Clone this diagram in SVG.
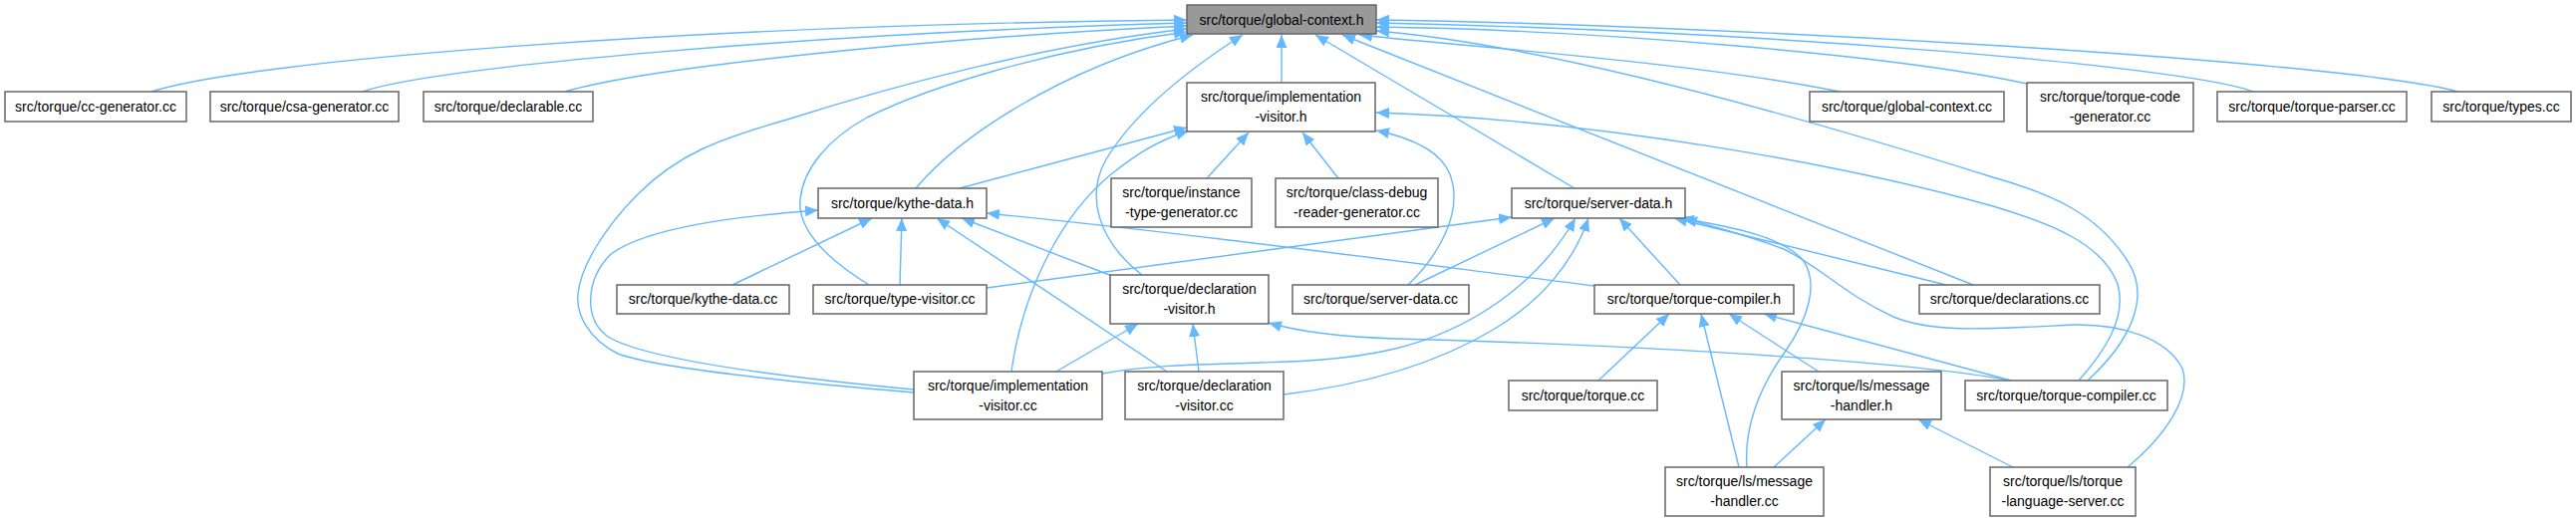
<svg xmlns="http://www.w3.org/2000/svg" width="2585" height="524" viewBox="0 0 2585 524">
<defs>
<marker id="a" viewBox="0 0 13 11" refX="13" refY="5.5" markerWidth="13" markerHeight="11" markerUnits="userSpaceOnUse" orient="auto">
<path d="M0,0 L13,5.5 L0,11 z" fill="#63b8ff"/>
</marker>
<style>
.n rect{fill:#fff;stroke:#666;stroke-width:1.5}
.g rect{fill:#999}
.n text{font-family:"Liberation Sans",Arial,sans-serif;font-size:14px;text-anchor:middle;fill:#000}
.e path{fill:none;stroke:#63b8ff;stroke-width:1.4;marker-end:url(#a)}
</style>
</defs>
<rect width="2585" height="524" fill="#fff"/>
<g id="edges" class="e">
<path d="M152,92 C250,60 700,25 1191,20"/>
<path d="M364,92 C430,68 800,34 1191,23"/>
<path d="M567,92 C640,70 900,40 1191,26"/>
<path d="M917,394 C800,384 660,370 620,355 C590,340 578,315 580,295 C583,265 610,225 640,195 C680,155 720,140 790,120 C900,85 1050,45 1191,29"/>
<path d="M872,286 C830,260 800,230 803,200 C806,170 830,140 870,118 C930,88 1050,50 1191,32"/>
<path d="M919,189 C960,140 1060,70 1197,35"/>
<path d="M1146,276 C1100,240 1090,195 1110,160 C1140,110 1200,65 1247,35"/>
<path d="M1286,83 L1286,35"/>
<path d="M1580,189 L1320,35"/>
<path d="M1980,286 L1347,35"/>
<path d="M1846,92 C1700,62 1450,45 1364,35"/>
<path d="M2034,84 C1900,55 1600,30 1381,27"/>
<path d="M2261,92 C2200,68 1800,32 1381,23"/>
<path d="M2466,92 C2350,60 1700,24 1381,20"/>
<path d="M2095,382 C2135,345 2160,300 2135,262 C2105,215 2060,195 2000,178 C1800,115 1550,45 1381,31"/>
<path d="M963,189 L1191,128"/>
<path d="M1015,373 C1025,300 1060,220 1115,175 C1140,155 1160,142 1193,131"/>
<path d="M1211,179 L1253,133"/>
<path d="M1343,179 L1307,133"/>
<path d="M1413,286 C1440,260 1470,215 1455,175 C1445,150 1415,138 1381,131"/>
<path d="M2086,382 C2110,355 2135,320 2125,285 C2110,245 2060,225 2000,207 C1850,165 1600,120 1381,113"/>
<path d="M917,391 C800,380 650,362 610,338 C585,320 588,280 613,255 C650,228 740,217 821,211"/>
<path d="M735,286 L875,219"/>
<path d="M903,286 L905,219"/>
<path d="M1171,373 L940,219"/>
<path d="M1116,277 L965,219"/>
<path d="M1600,287 C1400,262 1200,235 990,214"/>
<path d="M990,289 L1517,218"/>
<path d="M1420,286 L1560,219"/>
<path d="M1106,375 C1200,358 1310,372 1400,350 C1470,333 1540,290 1581,219"/>
<path d="M1288,396 C1380,385 1450,360 1500,330 C1550,300 1580,260 1594,219"/>
<path d="M1686,286 L1625,219"/>
<path d="M1953,286 L1680,219"/>
<path d="M1753,469 C1750,430 1765,390 1790,355 C1815,320 1825,285 1810,262 C1790,238 1740,228 1687,219"/>
<path d="M2135,469 C2170,440 2200,400 2190,370 C2175,340 2130,325 2080,326 C2000,330 1940,335 1900,318 C1850,295 1830,270 1790,250 C1750,235 1720,228 1690,219"/>
<path d="M1060,373 L1142,325"/>
<path d="M1203,373 L1197,325"/>
<path d="M2018,382 C1900,360 1600,345 1400,340 C1340,338 1300,332 1273,324"/>
<path d="M1604,382 L1675,315"/>
<path d="M1745,469 L1707,315"/>
<path d="M1825,373 L1735,315"/>
<path d="M2018,382 L1770,315"/>
<path d="M1780,469 L1832,421"/>
<path d="M2020,469 L1925,421"/>
</g>
<g id="gc" class="n g"><rect x="1191" y="5" width="190" height="29"/><text x="1286" y="25">src/torque/global-context.h</text></g>
<g id="ccg" class="n"><rect x="5" y="92" width="182" height="30"/><text x="96" y="112">src/torque/cc-generator.cc</text></g>
<g id="csa" class="n"><rect x="211" y="92" width="189" height="30"/><text x="305.5" y="112">src/torque/csa-generator.cc</text></g>
<g id="dcl" class="n"><rect x="425" y="92" width="170" height="30"/><text x="510" y="112">src/torque/declarable.cc</text></g>
<g id="gcc" class="n"><rect x="1816" y="92" width="195" height="30"/><text x="1913.5" y="112">src/torque/global-context.cc</text></g>
<g id="tcg" class="n"><rect x="2034" y="83" width="167" height="49"/><text x="2117.5" y="102">src/torque/torque-code</text><text x="2117.5" y="122">-generator.cc</text></g>
<g id="tp" class="n"><rect x="2225" y="92" width="190" height="30"/><text x="2320" y="112">src/torque/torque-parser.cc</text></g>
<g id="ty" class="n"><rect x="2440" y="92" width="140" height="30"/><text x="2510" y="112">src/torque/types.cc</text></g>
<g id="ivh" class="n"><rect x="1191" y="83" width="189" height="49"/><text x="1285.5" y="102">src/torque/implementation</text><text x="1285.5" y="122">-visitor.h</text></g>
<g id="kdh" class="n"><rect x="821" y="189" width="169" height="30"/><text x="905.5" y="209">src/torque/kythe-data.h</text></g>
<g id="itg" class="n"><rect x="1115" y="179" width="141" height="49"/><text x="1185.5" y="198">src/torque/instance</text><text x="1185.5" y="218">-type-generator.cc</text></g>
<g id="cdr" class="n"><rect x="1280" y="179" width="163" height="49"/><text x="1361.5" y="198">src/torque/class-debug</text><text x="1361.5" y="218">-reader-generator.cc</text></g>
<g id="sdh" class="n"><rect x="1517" y="189" width="174" height="30"/><text x="1604" y="209">src/torque/server-data.h</text></g>
<g id="kdc" class="n"><rect x="619" y="286" width="173" height="29"/><text x="705.5" y="305">src/torque/kythe-data.cc</text></g>
<g id="tvc" class="n"><rect x="816" y="286" width="174" height="29"/><text x="903" y="305">src/torque/type-visitor.cc</text></g>
<g id="dvh" class="n"><rect x="1114" y="276" width="159" height="49"/><text x="1193.5" y="295">src/torque/declaration</text><text x="1193.5" y="315">-visitor.h</text></g>
<g id="sdc" class="n"><rect x="1297" y="286" width="177" height="29"/><text x="1385.5" y="305">src/torque/server-data.cc</text></g>
<g id="tch" class="n"><rect x="1600" y="286" width="200" height="29"/><text x="1700" y="305">src/torque/torque-compiler.h</text></g>
<g id="dcs" class="n"><rect x="1926" y="286" width="181" height="29"/><text x="2016.5" y="305">src/torque/declarations.cc</text></g>
<g id="ivc" class="n"><rect x="917" y="373" width="189" height="48"/><text x="1011.5" y="392">src/torque/implementation</text><text x="1011.5" y="412">-visitor.cc</text></g>
<g id="dvc" class="n"><rect x="1129" y="373" width="159" height="48"/><text x="1208.5" y="392">src/torque/declaration</text><text x="1208.5" y="412">-visitor.cc</text></g>
<g id="tqc" class="n"><rect x="1514" y="382" width="149" height="30"/><text x="1588.5" y="402">src/torque/torque.cc</text></g>
<g id="mhh" class="n"><rect x="1788" y="373" width="160" height="48"/><text x="1868" y="392">src/torque/ls/message</text><text x="1868" y="412">-handler.h</text></g>
<g id="tcc" class="n"><rect x="1972" y="382" width="203" height="30"/><text x="2073.5" y="402">src/torque/torque-compiler.cc</text></g>
<g id="mhc" class="n"><rect x="1671" y="469" width="159" height="49"/><text x="1750.5" y="488">src/torque/ls/message</text><text x="1750.5" y="508">-handler.cc</text></g>
<g id="tls" class="n"><rect x="1997" y="469" width="146" height="49"/><text x="2070" y="488">src/torque/ls/torque</text><text x="2070" y="508">-language-server.cc</text></g>
</svg>
